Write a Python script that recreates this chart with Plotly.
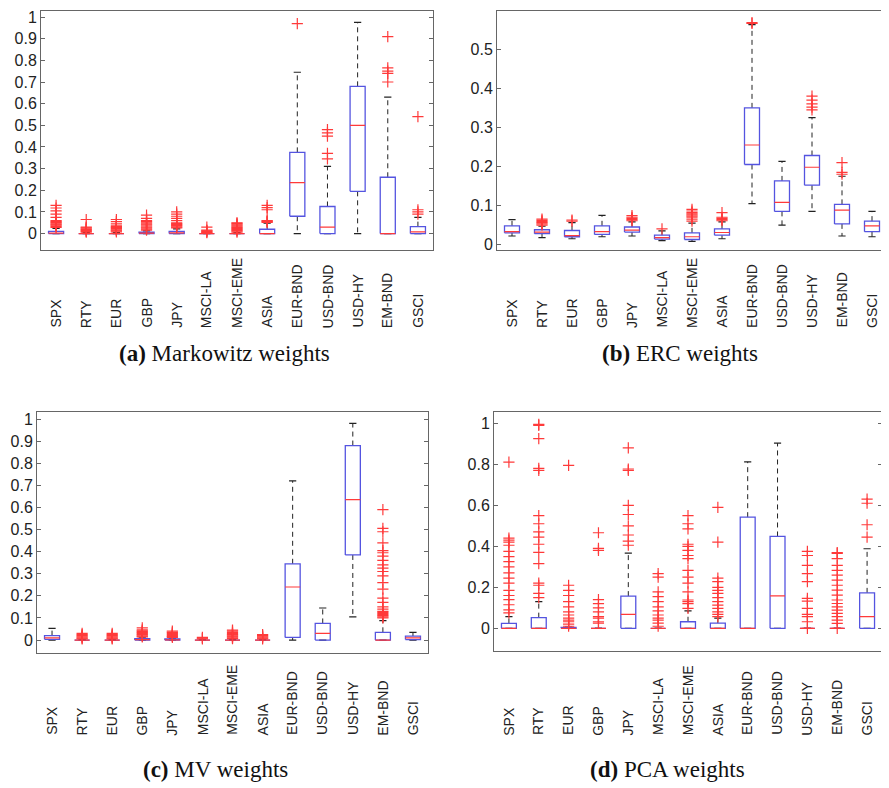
import plotly.graph_objects as go

labels = ["SPX", "RTY", "EUR", "GBP", "JPY", "MSCI-LA", "MSCI-EME", "ASIA",
          "EUR-BND", "USD-BND", "USD-HY", "EM-BND", "GSCI"]

# ---------- (a) Markowitz weights ----------
mk_q1 = [0, 0, 0, 0, 0, 0, 0, 0, 0.08, 0, 0.195, 0, 0]
mk_med = [0.002, 0, 0, 0.002, 0.003, 0, 0, 0, 0.235, 0.03, 0.5, 0, 0.008]
mk_q3 = [0.01, 0.002, 0.002, 0.006, 0.01, 0.001, 0.002, 0.02, 0.375, 0.125, 0.68, 0.26, 0.032]
mk_lo = [0, 0, 0, 0, 0, 0, 0, 0, 0, 0, 0, 0, 0]
mk_hi = [0.024, 0.004, 0.005, 0.012, 0.022, 0.002, 0.004, 0.048, 0.745, 0.31, 0.975, 0.63, 0.075]
mk_out = [
    [0.028, 0.032, 0.036, 0.04, 0.044, 0.048, 0.052, 0.056, 0.06, 0.075, 0.09, 0.105, 0.118, 0.13],
    [0.006, 0.01, 0.014, 0.018, 0.022, 0.026, 0.03, 0.065],
    [0.008, 0.012, 0.016, 0.02, 0.024, 0.028, 0.032, 0.036, 0.045, 0.055, 0.065],
    [0.016, 0.02, 0.025, 0.03, 0.035, 0.04, 0.045, 0.05, 0.055, 0.06, 0.07, 0.085],
    [0.026, 0.03, 0.034, 0.038, 0.042, 0.046, 0.05, 0.06, 0.07, 0.08, 0.09, 0.1],
    [0.004, 0.007, 0.01, 0.013, 0.016, 0.03],
    [0.007, 0.011, 0.015, 0.019, 0.023, 0.027, 0.031, 0.035, 0.039, 0.043, 0.047, 0.05],
    [0.052, 0.055, 0.058, 0.06, 0.11, 0.12, 0.13],
    [0.97],
    [0.345, 0.37, 0.45, 0.465, 0.48],
    [],
    [0.7, 0.74, 0.75, 0.765, 0.91],
    [0.09, 0.1, 0.11, 0.54],
]

# ---------- (b) ERC weights ----------
erc_q1 = [0.03, 0.028, 0.02, 0.026, 0.032, 0.014, 0.013, 0.024, 0.205, 0.085, 0.152, 0.053, 0.033]
erc_med = [0.033, 0.032, 0.023, 0.033, 0.037, 0.018, 0.02, 0.031, 0.255, 0.108, 0.198, 0.088, 0.048]
erc_q3 = [0.048, 0.038, 0.036, 0.048, 0.045, 0.024, 0.03, 0.04, 0.35, 0.163, 0.228, 0.103, 0.06]
erc_lo = [0.022, 0.018, 0.015, 0.02, 0.022, 0.01, 0.008, 0.015, 0.105, 0.05, 0.085, 0.022, 0.02]
erc_hi = [0.064, 0.047, 0.056, 0.075, 0.058, 0.035, 0.055, 0.058, 0.563, 0.213, 0.325, 0.175, 0.085]
erc_out = [
    [],
    [0.05, 0.053, 0.056, 0.059, 0.062, 0.065],
    [0.06, 0.063],
    [],
    [0.061, 0.064, 0.067, 0.07, 0.074],
    [0.04],
    [0.06, 0.065, 0.07, 0.073, 0.076, 0.079, 0.082, 0.086, 0.09],
    [0.061, 0.064, 0.067, 0.07, 0.082],
    [0.566, 0.568],
    [],
    [0.345, 0.352, 0.36, 0.37, 0.38],
    [0.18, 0.185, 0.21],
    [],
]

# ---------- (c) MV weights ----------
mv_q1 = [0.003, 0, 0, 0, 0, 0, 0, 0, 0.012, 0, 0.385, 0, 0.002]
mv_med = [0.01, 0, 0, 0.002, 0.001, 0, 0, 0, 0.24, 0.03, 0.635, 0, 0.01]
mv_q3 = [0.02, 0.001, 0.001, 0.006, 0.005, 0.001, 0.001, 0.001, 0.345, 0.075, 0.88, 0.035, 0.018]
mv_lo = [0, 0, 0, 0, 0, 0, 0, 0, 0, 0, 0.105, 0, 0]
mv_hi = [0.053, 0.002, 0.002, 0.01, 0.008, 0.002, 0.002, 0.002, 0.72, 0.145, 0.98, 0.088, 0.035]
mv_out = [
    [],
    [0.005, 0.009, 0.013, 0.017, 0.021, 0.025, 0.03],
    [0.005, 0.009, 0.013, 0.017, 0.021, 0.025, 0.03],
    [0.014, 0.018, 0.022, 0.026, 0.03, 0.034, 0.038, 0.042, 0.046, 0.055],
    [0.012, 0.016, 0.02, 0.025, 0.03, 0.035, 0.04],
    [0.005, 0.008, 0.012],
    [0.006, 0.01, 0.014, 0.018, 0.022, 0.026, 0.03, 0.035, 0.04, 0.045],
    [0.005, 0.009, 0.013, 0.017, 0.021, 0.025],
    [],
    [],
    [],
    [0.1, 0.105, 0.11, 0.115, 0.12, 0.125, 0.13, 0.14, 0.15, 0.17, 0.19, 0.23, 0.26,
     0.29, 0.31, 0.325, 0.34, 0.36, 0.38, 0.395, 0.405, 0.44, 0.49, 0.505, 0.59],
    [],
]

# ---------- (d) PCA weights ----------
pca_q1 = [0, 0, 0, 0, 0, 0, 0, 0, 0, 0, 0, 0, 0]
pca_med = [0, 0, 0, 0, 0.068, 0, 0, 0, 0, 0.158, 0, 0, 0.057]
pca_q3 = [0.024, 0.052, 0.004, 0, 0.157, 0, 0.032, 0.025, 0.542, 0.448, 0, 0, 0.173]
pca_lo = [0, 0, 0, 0, 0, 0, 0, 0, 0, 0, 0, 0, 0]
pca_hi = [0.057, 0.13, 0.006, 0, 0.367, 0, 0.085, 0.05, 0.812, 0.903, 0, 0, 0.388]
pca_out = [
    [0.075, 0.09, 0.115, 0.14, 0.16, 0.185, 0.22, 0.245, 0.27, 0.3, 0.325, 0.35, 0.375,
     0.405, 0.42, 0.43, 0.44, 0.81],
    [0.15, 0.17, 0.21, 0.22, 0.315, 0.37, 0.41, 0.445, 0.47, 0.51, 0.55, 0.77, 0.78,
     0.925, 0.99, 0.995],
    [0.01, 0.02, 0.032, 0.04, 0.05, 0.065, 0.08, 0.105, 0.13, 0.16, 0.185, 0.21, 0.795],
    [0.025, 0.032, 0.05, 0.057, 0.08, 0.1, 0.12, 0.14, 0.38, 0.39, 0.466],
    [0.405, 0.425, 0.455, 0.5, 0.555, 0.6, 0.77, 0.777, 0.88],
    [0.01, 0.025, 0.04, 0.05, 0.065, 0.085, 0.105, 0.13, 0.155, 0.178, 0.25, 0.267],
    [0.097, 0.12, 0.13, 0.138, 0.178, 0.22, 0.25, 0.283, 0.34, 0.355, 0.38, 0.4, 0.41,
     0.485, 0.51, 0.55],
    [0.057, 0.068, 0.08, 0.097, 0.113, 0.13, 0.15, 0.17, 0.185, 0.2, 0.228, 0.245, 0.42, 0.59],
    [],
    [],
    [0, 0.032, 0.057, 0.068, 0.097, 0.133, 0.146, 0.228, 0.267, 0.307, 0.355, 0.375],
    [0, 0.024, 0.04, 0.057, 0.073, 0.089, 0.105, 0.121, 0.138, 0.162, 0.186, 0.21,
     0.235, 0.259, 0.283, 0.307, 0.34, 0.365, 0.369],
    [0.445, 0.505, 0.61, 0.63],
]

captions = ["<b>(a)</b> Markowitz weights", "<b>(b)</b> ERC weights",
            "<b>(c)</b> MV weights", "<b>(d)</b> PCA weights"]

panels = [
    (mk_q1, mk_med, mk_q3, mk_lo, mk_hi, mk_out),
    (erc_q1, erc_med, erc_q3, erc_lo, erc_hi, erc_out),
    (mv_q1, mv_med, mv_q3, mv_lo, mv_hi, mv_out),
    (pca_q1, pca_med, pca_q3, pca_lo, pca_hi, pca_out),
]

# The page body has an 8px margin, so the figure is placed at (8, 8) in the window.
OFF = 8
W, H = 889 - OFF, 788 - OFF


def px(xp):
    return (xp - OFF) / W


def py(yp):
    return 1 - (yp - OFF) / H


# panel frames in window pixels: left, right, top, bottom
frames = [(41, 433, 9, 250), (497, 887, 9, 250), (37, 428, 413, 655), (494, 882, 413, 653)]
yranges = [[-0.078, 1.028], [-0.015, 0.598], [-0.058, 1.03], [-0.11, 1.053]]
ytickvals = [[round(0.1 * k, 1) for k in range(11)],
             [round(0.1 * k, 1) for k in range(6)],
             [round(0.1 * k, 1) for k in range(11)],
             [round(0.2 * k, 1) for k in range(6)]]
label_bottom_px = [330, 330, 740, 740]
caption_px = [(224, 354), (680, 354), (215, 772), (667, 772)]

BLUE = "#5454e0"
RED = "#ff3a3a"
BLACK = "#222222"
BW = 0.25   # box half width
CW = 0.12   # cap half width

fig = go.Figure()
xs = list(range(1, len(labels) + 1))

for p, (q1, med, q3, lo, hi, out) in enumerate(panels):
    xa = "x" if p == 0 else f"x{p + 1}"
    ya = "y" if p == 0 else f"y{p + 1}"
    bx, by, mx, my, wx, wy, cx, cy, ox, oy = [], [], [], [], [], [], [], [], [], []
    for i, x in enumerate(xs):
        wx += [x, x, None, x, x, None]
        wy += [q3[i], hi[i], None, q1[i], lo[i], None]
        cx += [x - CW, x + CW, None, x - CW, x + CW, None]
        cy += [hi[i], hi[i], None, lo[i], lo[i], None]
        bx += [x - BW, x + BW, x + BW, x - BW, x - BW, None]
        by += [q1[i], q1[i], q3[i], q3[i], q1[i], None]
        mx += [x - BW, x + BW, None]
        my += [med[i], med[i], None]
        for v in out[i]:
            ox.append(x)
            oy.append(v)
    fig.add_trace(go.Scatter(x=wx, y=wy, mode="lines", xaxis=xa, yaxis=ya,
                             line=dict(color=BLACK, width=1, dash="5px,4px"),
                             hoverinfo="skip", showlegend=False))
    fig.add_trace(go.Scatter(x=cx, y=cy, mode="lines", xaxis=xa, yaxis=ya,
                             line=dict(color=BLACK, width=1.2),
                             hoverinfo="skip", showlegend=False))
    fig.add_trace(go.Scatter(x=bx, y=by, mode="lines", xaxis=xa, yaxis=ya,
                             line=dict(color=BLUE, width=1.3),
                             hoverinfo="skip", showlegend=False))
    fig.add_trace(go.Scatter(x=mx, y=my, mode="lines", xaxis=xa, yaxis=ya,
                             line=dict(color=RED, width=1.2),
                             hoverinfo="skip", showlegend=False))
    fig.add_trace(go.Scatter(x=ox, y=oy, mode="markers", xaxis=xa, yaxis=ya,
                             marker=dict(symbol="cross-thin", size=8,
                                         line=dict(color=RED, width=1.2)),
                             hoverinfo="skip", showlegend=False))

    l, r, t, b = frames[p]
    xkey = "xaxis" if p == 0 else f"xaxis{p + 1}"
    ykey = "yaxis" if p == 0 else f"yaxis{p + 1}"
    fig.update_layout(**{
        xkey: dict(domain=[px(l), px(r)], range=[0.5, len(labels) + 0.5],
                   anchor=ya, showticklabels=False, ticks="", showgrid=False,
                   zeroline=False, showline=True, mirror=True,
                   linecolor="#666666", linewidth=1),
        ykey: dict(domain=[py(b), py(t)], range=yranges[p], anchor=xa,
                   tickvals=ytickvals[p], ticktext=[f"{v:g}" for v in ytickvals[p]],
                   ticks="inside", ticklen=4, tickcolor="#666666",
                   showgrid=False, zeroline=False, showline=True, mirror="allticks",
                   linecolor="#666666", linewidth=1,
                   tickfont=dict(family="Liberation Sans, Arial", size=16, color="#222222")),
    })
    for i, x in enumerate(xs):
        fig.add_annotation(x=x, y=py(label_bottom_px[p]), xref=xa, yref="paper",
                           text=labels[i], textangle=-90, showarrow=False,
                           xanchor="center", yanchor="bottom",
                           font=dict(family="Liberation Sans, Arial", size=14, color="#222222"))
    cxp, cyp = caption_px[p]
    fig.add_annotation(x=px(cxp), y=py(cyp), xref="paper", yref="paper",
                       text=captions[p], showarrow=False, xanchor="center", yanchor="middle",
                       font=dict(family="Liberation Serif, DejaVu Serif, serif", size=23,
                                 color="#111111"))

fig.update_layout(width=W, height=H, margin=dict(l=0, r=0, t=0, b=0),
                  paper_bgcolor="white", plot_bgcolor="white")

fig.write_html("out.html")
